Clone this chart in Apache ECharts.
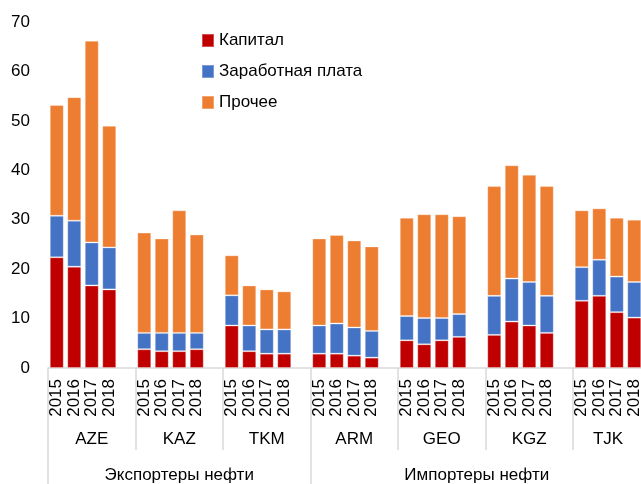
<!DOCTYPE html>
<html>
<head>
<meta charset="utf-8">
<script src="https://cdn.jsdelivr.net/npm/echarts@6/dist/echarts.min.js"></script>
<style>
    html, body { margin: 0; padding: 0; background: #fff; }
    #chart { width: 641px; height: 484px; }
</style>
</head>
<body>
<div id="chart"></div>
<script>
const countries = ["AZE", "KAZ", "TKM", "ARM", "GEO", "KGZ", "TJK"]
const years = ["2015", "2016", "2017", "2018"]
const groups = ["Экспортеры нефти", "Импортеры нефти"]
const groupSize = [3, 4] // countries in each group
const yTicks = { min: 0, max: 70, interval: 10 }

// values per country, years 2015-2018
const capital = [
    22.4, 20.5, 16.7, 15.9,
    3.8, 3.4, 3.4, 3.8,
    8.6, 3.4, 2.9, 2.9,
    2.9, 2.9, 2.5, 2.1,
    5.6, 4.8, 5.6, 6.3,
    6.7, 9.4, 8.6, 7.1,
    13.6, 14.6, 11.3, 10.2,
]
const wages = [
    8.4, 9.3, 8.7, 8.5,
    3.3, 3.7, 3.7, 3.3,
    6.1, 5.2, 4.9, 4.9,
    5.7, 6.1, 5.7, 5.4,
    4.9, 5.3, 4.5, 4.6,
    7.9, 8.7, 8.8, 7.5,
    6.8, 7.3, 7.2, 7.2,
]
const other = [
    22.4, 25.0, 40.8, 24.6,
    20.3, 19.1, 24.8, 19.9,
    8.1, 8.1, 8.1, 7.7,
    17.6, 17.9, 17.6, 17.1,
    19.9, 21.0, 21.0, 19.8,
    22.2, 22.9, 21.7, 22.2,
    11.5, 10.4, 11.9, 12.6,
]

const font = "'Liberation Sans', Arial, sans-serif"
const fs = 17
const sepColor = "#d9d9d9"

// slots: 4 years per country, one empty slot between countries
let categories = []
let countryStart = []
function withGaps(arr) {
    let out = []
    countries.forEach((c, i) => {
        years.forEach((y, j) => out.push(arr[i * years.length + j]))
        if (i < countries.length - 1) out.push("-")
    })
    return out
}
countries.forEach((c, i) => {
    countryStart.push(categories.length)
    years.forEach((y) => categories.push(y))
    if (i < countries.length - 1) categories.push("")
})
const slotCount = categories.length
const countryEnd = countryStart.map((s, i) => (i < countries.length - 1 ? countryStart[i + 1] : slotCount))
const countryMid = countryStart.map((s, i) => (s + countryEnd[i]) / 2)

let groupStart = []
let groupMid = []
let k = 0
groupSize.forEach((n) => {
    let s = countryStart[k]
    let e = countryEnd[k + n - 1]
    groupStart.push(s)
    groupMid.push((s + e) / 2)
    k += n
})

let myChart = echarts.init(document.getElementById("chart"))
myChart.setOption({
    animation: false,
    grid: {
        left: 48,
        top: 22,
        bottom: 116,
        right: -2,
        containLabel: false,
        outerBoundsMode: "none",
    },
    legend: {
        orient: "vertical",
        left: 201,
        top: 32,
        padding: 0,
        icon: "rect",
        itemWidth: 12,
        itemHeight: 13,
        itemGap: 14,
        textStyle: { fontFamily: font, fontSize: fs, color: "#000" },
        data: ["Капитал", "Заработная плата", "Прочее"],
    },
    xAxis: [
        {
            type: "category",
            data: categories,
            axisLine: { lineStyle: { color: sepColor, width: 1.5 } },
            axisTick: { show: false },
            axisLabel: {
                interval: 0,
                rotate: 90,
                margin: 11,
                fontFamily: font,
                fontSize: fs,
                color: "#000",
            },
        },
        {
            type: "value",
            position: "bottom",
            min: 0,
            max: slotCount,
            axisLine: { show: false },
            splitLine: { show: false },
            axisTick: {
                show: true,
                customValues: countryStart,
                length: 82,
                lineStyle: { color: sepColor, width: 1.5 },
            },
            axisLabel: {
                customValues: countryMid,
                margin: 63,
                fontFamily: font,
                fontSize: fs,
                color: "#000",
                formatter: function (v) {
                    let i = countryMid.indexOf(v)
                    return i >= 0 ? countries[i] : ""
                },
            },
        },
        {
            type: "value",
            position: "bottom",
            min: 0,
            max: slotCount,
            axisLine: { show: false },
            splitLine: { show: false },
            axisTick: {
                show: true,
                customValues: groupStart,
                length: 116,
                lineStyle: { color: sepColor, width: 1.5 },
            },
            axisLabel: {
                customValues: groupMid,
                margin: 99,
                fontFamily: font,
                fontSize: fs,
                color: "#000",
                formatter: function (v) {
                    let i = groupMid.indexOf(v)
                    return i >= 0 ? groups[i] : ""
                },
            },
        },
    ],
    yAxis: {
        type: "value",
        min: yTicks.min,
        max: yTicks.max,
        interval: yTicks.interval,
        axisLine: { show: false },
        axisTick: { show: false },
        splitLine: { show: false },
        axisLabel: { margin: 18, fontFamily: font, fontSize: fs, color: "#000" },
    },
    series: [
        {
            name: "Капитал",
            type: "bar",
            stack: "total",
            barWidth: 14,
            itemStyle: { color: "#C00000", borderColor: "rgba(255,255,255,0.3)", borderWidth: 1 },
            data: withGaps(capital),
        },
        {
            name: "Заработная плата",
            type: "bar",
            stack: "total",
            barWidth: 14,
            itemStyle: { color: "#4472C4", borderColor: "rgba(255,255,255,0.3)", borderWidth: 1 },
            data: withGaps(wages),
        },
        {
            name: "Прочее",
            type: "bar",
            stack: "total",
            barWidth: 14,
            itemStyle: { color: "#ED7D31", borderColor: "rgba(255,255,255,0.3)", borderWidth: 1 },
            data: withGaps(other),
        },
    ],
})
window.addEventListener("resize", function () {
    myChart.resize()
})
</script>
</body>
</html>
